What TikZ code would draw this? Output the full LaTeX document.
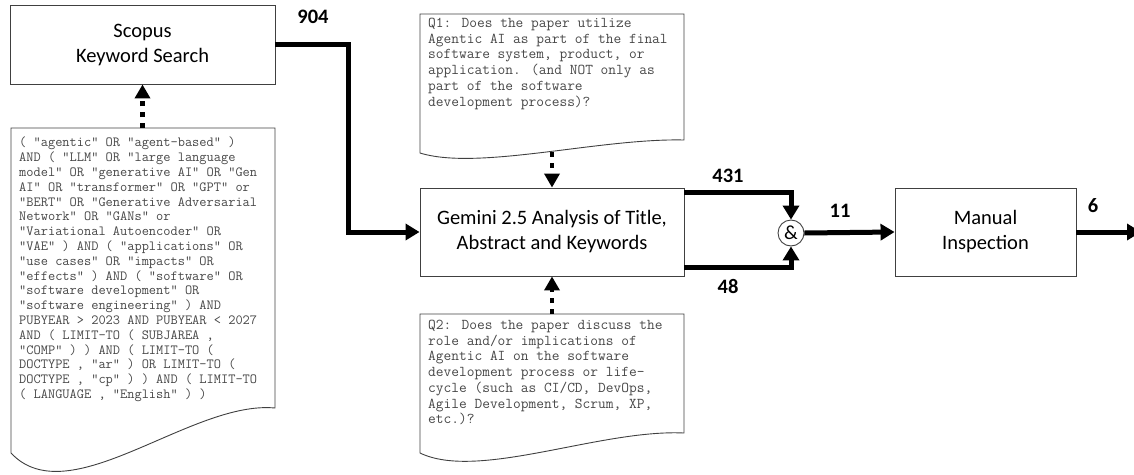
\documentclass[tikz,border=0pt]{standalone}
\usepackage{fontspec}
\setmainfont{Carlito}
\usetikzlibrary{arrows.meta,calc}
\begin{document}
\begin{tikzpicture}[x=1pt,y=-1pt,
  box/.style={draw=black!75, line width=0.9pt, rectangle, inner sep=0pt, align=center, font=\fontsize{20.5}{25}\selectfont, execute at begin node={\rule{0pt}{27pt}}},
  doc/.style={draw=black!75, line width=0.9pt},
  flow/.style={line width=5pt, -{Triangle[length=14pt,width=16pt]}},
  dotarrow/.style={line width=4.5pt, dash pattern=on 5pt off 6pt, -{Triangle[length=14pt,width=15pt]}},
  num/.style={font=\fontsize{20.5}{25}\selectfont\bfseries},
  qtext/.style={anchor=north west, inner sep=0pt, align=left, text=black!72, font=\ttfamily\fontsize{15}{15.7}\selectfont},
]
\useasboundingbox (0,0) rectangle (1134,474);

% document shapes
\draw[doc] (11,128) -- (275,128) -- (275,408) .. controls (191,400) and (69,515) .. (11,453) -- cycle;
\draw[doc] (420,14) -- (684,14) -- (684,140) .. controls (600,138) and (478,171) .. (420,153) -- cycle;
\draw[doc] (420,314) -- (684,314) -- (684,433) .. controls (600,429) and (478,481) .. (420,453) -- cycle;

% boxes
\node[box, minimum width=265pt, minimum height=79pt] (scopus) at (142.5,44.5) {Scopus\\Keyword Search};
\node[box, minimum width=264pt, minimum height=88pt] (gem) at (552,232) {Gemini 2.5 Analysis of Title,\\Abstract and Keywords};
\node[box, minimum width=181pt, minimum height=88pt] (man) at (985.5,232) {Manual\\Inspection};
\node[circle, draw=black!75, line width=0.9pt, minimum size=26pt, inner sep=0pt, font=\fontsize{20}{24}\selectfont] (and) at (791,233) {\&};

% texts
\node[qtext, font=\ttfamily\fontsize{14}{14.8}\selectfont] (qry) at (19,137) {%
( "agentic" OR "agent-based" )\\
AND ( "LLM" OR "large language\\
model" OR "generative AI" OR "Gen\\
AI" OR "transformer" OR "GPT" or\\
"BERT" OR "Generative Adversarial\\
Network" OR "GANs" or\\
"Variational Autoencoder" OR\\
"VAE" ) AND ( "applications" OR\\
"use cases" OR "impacts" OR\\
"effects" ) AND ( "software" OR\\
"software development" OR\\
"software engineering" ) AND\\
PUBYEAR > 2023 AND PUBYEAR < 2027\\
AND ( LIMIT-TO ( SUBJAREA ,\\
"COMP" ) ) AND ( LIMIT-TO (\\
DOCTYPE , "ar" ) OR LIMIT-TO (\\
DOCTYPE , "cp" ) ) AND ( LIMIT-TO\\
( LANGUAGE , "English" ) )};

\node[qtext] (q1) at (428,18) {%
Q1: Does the paper utilize\\
Agentic AI as part of the final\\
software system, product, or\\
application. (and NOT only as\\
part of the software\\
development process)?};

\node[qtext] (q2) at (428,320) {%
Q2: Does the paper discuss the\\
role and/or implications of\\
Agentic AI on the software\\
development process or life-\\
cycle (such as CI/CD, DevOps,\\
Agile Development, Scrum, XP,\\
etc.)?};

% connectors
\draw[flow] (scopus.east) -- ++(73,0) |- (gem.west);
\draw[flow] ([yshift=-5pt]gem.north east) -| (and.north);
\draw[flow] ([yshift=9pt]gem.south east) -| (and.south);
\draw[flow] (and.east) -- (man.west);
\coordinate (out) at (1141,232);
\draw[flow] (man.east) -- (out);

\coordinate (qtop) at (142.5,128);
\draw[dotarrow] (qtop) -- (scopus.south);
\coordinate (q1b) at (552,152);
\draw[dotarrow] (q1b) -- (gem.north);
\coordinate (q2t) at (552,314);
\draw[dotarrow] (q2t) -- (gem.south);

% labels
\node[num] (n904) at (313,17) {904};
\node[num] (n431) at (728,176) {431};
\node[num] (n48) at (728,286) {48};
\node[num] (n11) at (840,211) {11};
\node[num] (n6) at (1093,206) {6};
\end{tikzpicture}
\end{document}
